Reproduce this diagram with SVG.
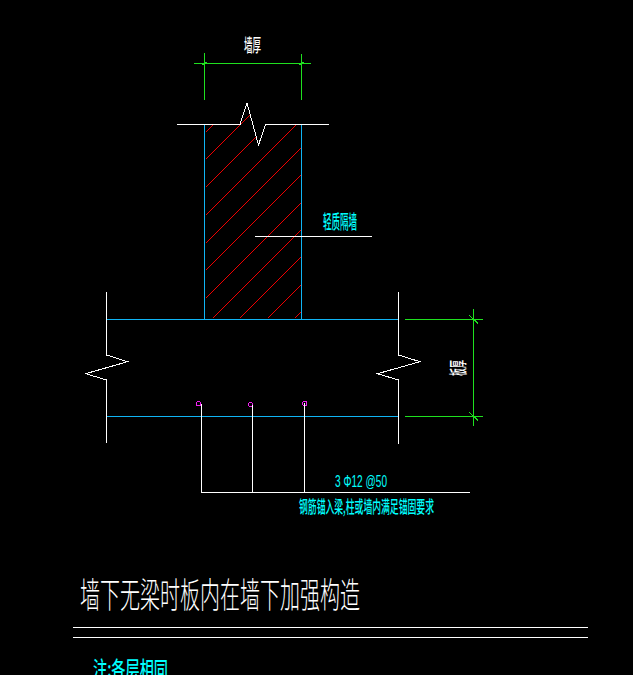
<svg xmlns="http://www.w3.org/2000/svg" width="633" height="675" viewBox="0 0 633 675">
<style>
line,polyline,circle{fill:none;stroke-width:1;shape-rendering:crispEdges}
.w{stroke:#fff}.c{stroke:#10b4f4}.g{stroke:#1fe01f}.r{stroke:#f00000}.m{stroke:#f020f0}
text{font-family:"Noto Sans CJK SC","Liberation Sans",sans-serif;font-weight:500}
.tw{fill:#fff}.tc{fill:#00ffff}
</style>
<rect width="633" height="675" fill="#000"/>
<g id="hatch" class="r">
<line x1="205.5" y1="132.5" x2="213.5" y2="124.5"/>
<line x1="205.5" y1="159.5" x2="249.5" y2="115.5"/>
<line x1="205.5" y1="187.5" x2="256.5" y2="136.5"/>
<line x1="205.5" y1="215.5" x2="295.5" y2="125.5"/>
<line x1="205.5" y1="243.5" x2="301.5" y2="147.5"/>
<line x1="205.5" y1="270.5" x2="301.5" y2="174.5"/>
<line x1="205.5" y1="298.5" x2="301.5" y2="202.5"/>
<line x1="212.5" y1="318.5" x2="301.5" y2="229.5"/>
<line x1="239.5" y1="318.5" x2="301.5" y2="256.5"/>
<line x1="267.5" y1="318.5" x2="301.5" y2="284.5"/>
<line x1="294.5" y1="318.5" x2="301.5" y2="311.5"/>
</g>
<g id="wall">
<line class="c" x1="204.5" y1="124.5" x2="204.5" y2="319"/>
<line class="c" x1="301.5" y1="124.5" x2="301.5" y2="319"/>
<polyline class="w" points="177,124.5 240,124.5 247,103 258.5,145 265.5,124.5 329,124.5"/>
</g>
<g id="slab">
<line class="c" x1="106" y1="319.5" x2="399" y2="319.5"/>
<line class="c" x1="106" y1="416.5" x2="399" y2="416.5"/>
<polyline class="w" points="106.5,292 106.5,355 127.5,361.7 85.7,373.7 106.5,380 106.5,442.7"/>
<polyline class="w" points="398.5,292 398.5,355 420,361.7 377.5,373.7 398.5,380 398.5,444"/>
</g>
<g id="dimensions">
<line class="g" x1="194" y1="63.5" x2="311" y2="63.5"/>
<line class="g" x1="204.5" y1="53" x2="204.5" y2="100"/>
<line class="g" x1="301.5" y1="54" x2="301.5" y2="100"/>
<line class="g" x1="202" y1="65" x2="207" y2="62"/>
<line class="g" x1="299" y1="65" x2="304" y2="62"/>
<line class="g" x1="405" y1="319.5" x2="483" y2="319.5"/>
<line class="g" x1="405" y1="416.5" x2="483" y2="416.5"/>
<line class="g" x1="473.5" y1="309" x2="473.5" y2="426"/>
<line class="g" x1="469" y1="315" x2="478" y2="323.5"/>
<line class="g" x1="469" y1="412" x2="478" y2="420.5"/>
</g>
<g id="rebars">
<circle class="m" cx="198.5" cy="403.7" r="2.2"/>
<circle class="m" cx="250.7" cy="404.7" r="2.2"/>
<circle class="m" cx="304.7" cy="403.5" r="2.2"/>
<line class="w" x1="201.5" y1="404" x2="201.5" y2="492.5"/>
<line class="w" x1="252.5" y1="405" x2="252.5" y2="492.5"/>
<line class="w" x1="304.5" y1="403" x2="304.5" y2="492.5"/>
<line class="w" x1="201.5" y1="492.5" x2="470" y2="492.5"/>
</g>
<line id="leader" class="w" x1="255" y1="236.5" x2="372" y2="236.5"/>
<g id="labels">
<text class="tw" x="244" y="52" font-size="18" textLength="17" lengthAdjust="spacingAndGlyphs">墙厚</text>
<text class="tc" x="323" y="229" font-size="19" textLength="34" lengthAdjust="spacingAndGlyphs">轻质隔墙</text>
<text class="tw" transform="translate(465,376) rotate(-90)" font-size="18" textLength="16" lengthAdjust="spacingAndGlyphs">板厚</text>
<text class="tc" x="335" y="487" font-size="16" textLength="52" lengthAdjust="spacingAndGlyphs" style="font-family:'Liberation Sans',sans-serif;font-weight:400">3 Φ12 @50</text>
<text class="tc" x="299" y="513" font-size="17" textLength="135" lengthAdjust="spacingAndGlyphs">钢筋锚入梁,柱或墙内满足锚固要求</text>
</g>
<g id="title">
<text class="tw" x="80" y="608" font-size="35" textLength="280" lengthAdjust="spacingAndGlyphs" style="font-weight:300">墙下无梁时板内在墙下加强构造</text>
<line class="w" x1="73" y1="627.5" x2="588" y2="627.5"/>
<line class="w" x1="73" y1="637.5" x2="588" y2="637.5"/>
<text class="tc" x="93" y="677" font-size="22" textLength="75" lengthAdjust="spacingAndGlyphs">注:各层相同</text>
</g>
</svg>
